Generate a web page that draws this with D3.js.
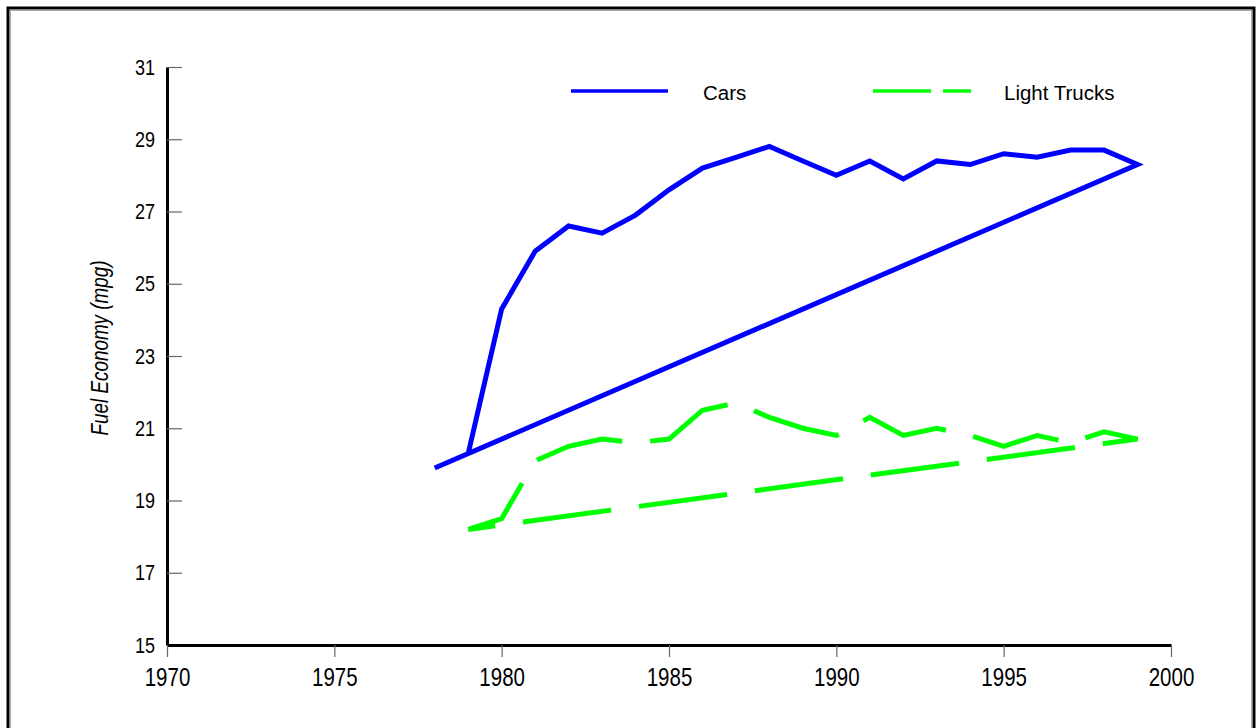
<!DOCTYPE html>
<html>
<head>
<meta charset="utf-8">
<script src="https://cdn.jsdelivr.net/npm/d3@7"></script>
<style>
  html, body { margin: 0; padding: 0; background: #fff; }
  svg { display: block; }
</style>
</head>
<body>
<svg id="chart" width="1257" height="728"></svg>
<script>
// ---- data ----
const carYears = [1978, 1979, 1980, 1981, 1982, 1983, 1984, 1985, 1986, 1987, 1988,
                  1989, 1990, 1991, 1992, 1993, 1994, 1995, 1996, 1997, 1998, 1999];
const carMpg   = [19.9, 20.3, 24.3, 25.9, 26.6, 26.4, 26.9, 27.6, 28.2, 28.5, 28.8,
                  28.4, 28.0, 28.4, 27.9, 28.4, 28.3, 28.6, 28.5, 28.7, 28.7, 28.3];
const truckYears = [1979, 1980, 1981, 1982, 1983, 1984, 1985, 1986, 1987, 1988,
                    1989, 1990, 1991, 1992, 1993, 1994, 1995, 1996, 1997, 1998, 1999];
const truckMpg   = [18.2, 18.5, 20.1, 20.5, 20.7, 20.6, 20.7, 21.5, 21.7, 21.3,
                    21.0, 20.8, 21.3, 20.8, 21.0, 20.8, 20.5, 20.8, 20.6, 20.9, 20.7];
const xTicks = [1970, 1975, 1980, 1985, 1990, 1995, 2000];
const yTicks = [15, 17, 19, 21, 23, 25, 27, 29, 31];
const seriesNames = ["Cars", "Light Trucks"];
const yTitle = "Fuel Economy (mpg)";

// ---- chart ----
const svg = d3.select("#chart");
const sans = "'Liberation Sans', Arial, sans-serif";
const squeeze = 0.82; // emulate the narrow face of the original

// frame
svg.append("rect").attr("x", 8).attr("y", 8).attr("width", 1246).attr("height", 740)
  .attr("fill", "none").attr("stroke", "#000").attr("stroke-width", 3);
svg.append("rect").attr("x", 10.5).attr("y", 10.5).attr("width", 1241).attr("height", 740)
  .attr("fill", "none").attr("stroke", "#aaa").attr("stroke-width", 1);

const x = d3.scaleLinear().domain([1970, 2000]).range([167, 1171]);
const y = d3.scaleLinear().domain([15, 31]).range([645, 67]);

// y axis
const yAxis = svg.append("g").attr("transform", `translate(${x(1970)},0)`)
  .call(d3.axisLeft(y).tickValues(yTicks).tickFormat(d3.format("d"))
        .tickSize(-15).tickSizeOuter(0).tickPadding(12));
yAxis.select(".domain").attr("stroke", "#000").attr("stroke-width", 3);
yAxis.selectAll(".tick line").attr("stroke", "#666").attr("stroke-width", 1.2);
yAxis.selectAll(".tick text").attr("fill", "#000")
  .attr("x", -12 / squeeze)
  .attr("transform", `scale(${squeeze},1)`)
  .style("font-family", sans).style("font-size", "22px");

// x axis
const xAxis = svg.append("g").attr("transform", `translate(0,${y(15)})`)
  .call(d3.axisBottom(x).tickValues(xTicks).tickFormat(d3.format("d"))
        .tickSize(12).tickSizeOuter(0).tickPadding(11));
xAxis.select(".domain").attr("stroke", "#000").attr("stroke-width", 3);
xAxis.selectAll(".tick line").attr("stroke", "#666").attr("stroke-width", 1.2);
xAxis.selectAll(".tick text").attr("fill", "#000")
  .attr("transform", `scale(${squeeze},1)`)
  .style("font-family", sans).style("font-size", "25px");

// y title
svg.append("text")
  .attr("transform", `translate(108,348) rotate(-90) scale(${squeeze},1)`)
  .attr("text-anchor", "middle")
  .style("font-family", sans).style("font-size", "23px").style("font-style", "italic")
  .text(yTitle);

// lines (path returns from the last point to the first, as in the reference)
const line = d3.line().x(d => x(d[0])).y(d => y(d[1]));
const cars = carYears.map((yr, i) => [yr, carMpg[i]]);
const trucks = truckYears.map((yr, i) => [yr, truckMpg[i]]);

svg.append("path").datum(cars.concat([cars[0]]))
  .attr("d", line).attr("fill", "none")
  .attr("stroke", "#0000ff").attr("stroke-width", 5);

svg.append("path").datum(trucks.concat([trucks[0]]))
  .attr("d", line).attr("fill", "none")
  .attr("stroke", "#00ff00").attr("stroke-width", 5)
  .attr("stroke-dasharray", "89,28").attr("stroke-dashoffset", 13);

// legend
const lg = svg.append("g");
lg.append("line").attr("x1", 571).attr("x2", 668).attr("y1", 91).attr("y2", 91)
  .attr("stroke", "#0000ff").attr("stroke-width", 3.5);
lg.append("text").attr("x", 703).attr("y", 100)
  .style("font-family", sans).style("font-size", "20.5px").text(seriesNames[0]);
lg.append("line").attr("x1", 873).attr("x2", 971).attr("y1", 91).attr("y2", 91)
  .attr("stroke", "#00ff00").attr("stroke-width", 3.5).attr("stroke-dasharray", "58,12");
lg.append("text").attr("x", 1004).attr("y", 100)
  .style("font-family", sans).style("font-size", "20.5px").text(seriesNames[1]);
</script>
</body>
</html>
